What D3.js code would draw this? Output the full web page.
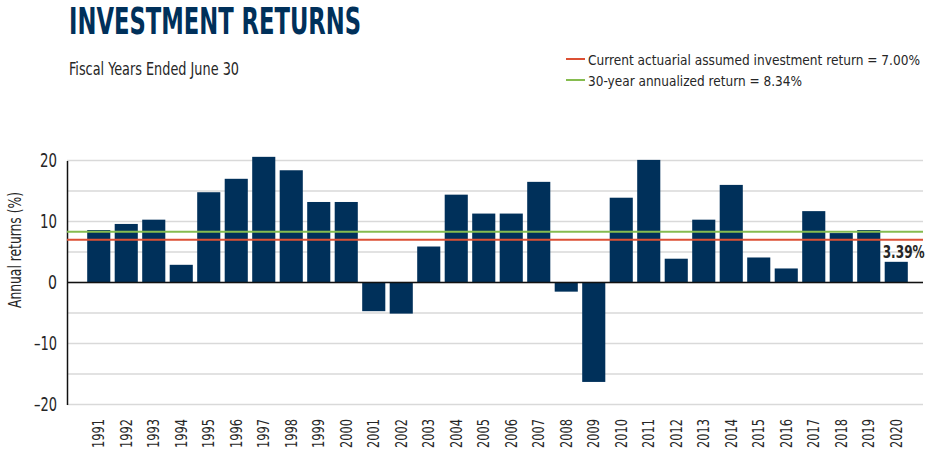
<!DOCTYPE html>
<html>
<head>
<meta charset="utf-8">
<script src="https://cdn.jsdelivr.net/npm/d3@7"></script>
<style>
  body { margin: 0; background: #fff; }
  svg { display: block; }
  text { font-family: "Liberation Sans Narrow", "DejaVu Sans Condensed", "Roboto Condensed", "Arial Narrow", sans-serif; }
</style>
</head>
<body>
<svg id="chart"></svg>
<script>
// data
const years = d3.range(1991, 2021).map(String);
const returns = [8.6, 9.6, 10.3, 2.9, 14.8, 17.0, 20.6, 18.4, 13.2, 13.2,
  -4.7, -5.1, 5.9, 14.4, 11.3, 11.3, 16.5, -1.5, -16.3, 13.9,
  20.1, 3.9, 10.3, 16.0, 4.1, 2.3, 11.7, 8.1, 8.6, 3.39];
const refLabels = ['Current actuarial assumed investment return = 7.00%', '30-year annualized return = 8.34%'];
const refValues = [7.00, 8.34];
const refColors = ['#dc5034', '#86bc4f'];
const yTicks = [-20, -10, 0, 10, 20];

const width = 951, height = 455;
const navy = '#00305a';
const ink = '#262626';
const svg = d3.select('#chart').attr('width', width).attr('height', height);

const plotLeft = 67, plotRight = 923;
const x = d3.scaleBand().domain(years).range([85, 910]).paddingInner(0.16).paddingOuter(0.08);
const y = d3.scaleLinear().domain([-20, 20]).range([404.5, 160.5]);

// squeeze a text to the width it has in the picture
const fit = (sel, w) => sel.attr('textLength', w).attr('lengthAdjust', 'spacingAndGlyphs');

// title + subtitle
svg.append('text')
  .attr('x', 69).attr('y', 34)
  .attr('fill', navy)
  .attr('font-size', 37).attr('font-weight', 'bold')
  .call(fit, 292)
  .text('INVESTMENT RETURNS');

svg.append('text')
  .attr('x', 69).attr('y', 75)
  .attr('fill', ink).attr('font-size', 17)
  .call(fit, 170)
  .text('Fiscal Years Ended June 30');

// legend
const legend = svg.append('g').selectAll('g')
  .data(refLabels)
  .enter().append('g')
  .attr('transform', (d, i) => `translate(566, ${59 + i * 21})`);
legend.append('line')
  .attr('x1', 0).attr('x2', 19)
  .attr('stroke', (d, i) => refColors[i]).attr('stroke-width', 2);
legend.append('text')
  .attr('x', 22).attr('y', 5.5)
  .attr('fill', ink).attr('font-size', 14)
  .attr('textLength', (d, i) => [332, 214][i]).attr('lengthAdjust', 'spacingAndGlyphs')
  .text(d => d);

// gridlines every 5
svg.append('g').selectAll('line')
  .data(y.ticks(8))
  .enter().append('line')
  .attr('x1', plotLeft).attr('x2', plotRight)
  .attr('y1', d => y(d)).attr('y2', d => y(d))
  .attr('stroke', '#d9d9d9').attr('stroke-width', 1.5);

// y axis
const yAxis = svg.append('g')
  .attr('transform', `translate(${plotLeft},0)`)
  .call(d3.axisLeft(y).tickValues(yTicks).tickSize(0).tickPadding(10)
    .tickFormat(d => d < 0 ? '\u2013' + Math.abs(d) : d));
yAxis.select('.domain').attr('stroke', '#111').attr('stroke-width', 1.5);
yAxis.selectAll('text').attr('font-size', 20).attr('fill', ink)
  .style('font-family', null)
  .attr('textLength', d => d < 0 ? 23 : (d === 0 ? 9 : 17)).attr('lengthAdjust', 'spacingAndGlyphs');

svg.append('text')
  .attr('transform', 'translate(21,250) rotate(-90)')
  .attr('text-anchor', 'middle')
  .attr('fill', ink).attr('font-size', 17)
  .call(fit, 116)
  .text('Annual returns (%)');

// bars
svg.append('g').selectAll('rect')
  .data(returns)
  .enter().append('rect')
  .attr('x', (d, i) => x(years[i]))
  .attr('width', x.bandwidth())
  .attr('y', d => y(Math.max(0, d)))
  .attr('height', d => Math.abs(y(d) - y(0)))
  .attr('fill', navy);

// zero line
svg.append('line')
  .attr('x1', plotLeft).attr('x2', plotRight)
  .attr('y1', y(0)).attr('y2', y(0))
  .attr('stroke', '#111').attr('stroke-width', 1.5);

// reference lines
svg.append('g').selectAll('line')
  .data(refValues)
  .enter().append('line')
  .attr('x1', plotLeft).attr('x2', plotRight)
  .attr('y1', d => y(d)).attr('y2', d => y(d))
  .attr('stroke', (d, i) => refColors[i]).attr('stroke-width', 2);

// x axis labels
const xAxis = svg.append('g')
  .attr('transform', 'translate(0,414)')
  .call(d3.axisBottom(x).tickSize(0).tickPadding(0));
xAxis.select('.domain').remove();
xAxis.selectAll('text')
  .attr('transform', 'rotate(-90)')
  .attr('text-anchor', 'end')
  .attr('x', -5).attr('y', 0).attr('dy', '0.35em')
  .attr('font-size', 15).attr('fill', ink)
  .style('font-family', null)
  .attr('textLength', 29).attr('lengthAdjust', 'spacingAndGlyphs');

// last value label
const last = returns.length - 1;
svg.append('text')
  .attr('x', x(years[last]) - 2)
  .attr('y', y(returns[last]) - 4)
  .attr('fill', ink).attr('font-size', 18).attr('font-weight', 'bold')
  .call(fit, 42)
  .text(returns[last].toFixed(2) + '%');
</script>
</body>
</html>
